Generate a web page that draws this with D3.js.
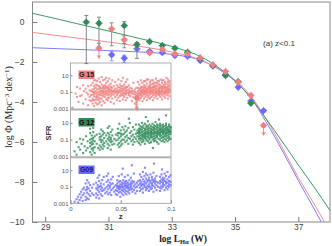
<!DOCTYPE html>
<html><head><meta charset="utf-8">
<script src="https://cdn.jsdelivr.net/npm/d3@7"></script>
<style>body{margin:0;background:#fff}svg{display:block}</style>
</head><body><div id="chart"></div>
<script>
var width = 332, height = 246;

// luminosity bins, log L_Ha (W)
var lumBins = [30.3,30.7,31.1,31.5,31.9,32.3,32.7,33.1,33.5,33.9,34.3,34.7,35.1,35.5,35.9];
// log Phi per field (null = no point)
var phiG12 = [0.0,-0.06,null,-0.18,-1.12,-0.98,-1.18,-1.31,-1.51,-1.83,-2.18,-2.68,-2.98,-4.06,null];
var phiG15 = [null,-1.31,-0.34,-0.89,-3.8,-1.54,-1.37,-1.59,-1.59,-1.79,-2.14,-2.47,-3.01,-3.67,-5.17];
var phiG09 = [null,null,-1.64,-1.81,-1.34,-1.47,-1.52,-1.67,-1.71,-1.93,-2.2,-2.62,-3.26,-3.95,-4.43];
var upG12 = [0.33,0.3,null,0.2,0.1,null,null,null,null,null,null,null,null,null,null];
var dnG12 = [2.08,1.25,null,0.9,0.7,null,null,null,null,null,null,null,null,null,null];
var upG15 = [null,0.25,0.3,0.2,null,null,null,null,null,null,null,null,null,null,null];
var dnG15 = [null,0.52,0.85,0.4,0.62,null,null,null,null,null,null,null,null,null,0.5];
var limG15 = [0,1,0,0,1,0,0,0,0,0,0,0,0,0,1];
var upG09 = [null,null,0.15,0.15,null,null,null,null,null,null,null,null,null,null,null];
var dnG09 = [null,null,0.3,0.22,null,null,null,null,null,null,null,null,null,null,null];

// fitted curves
var fitL   = [28.5,29,30,31,32,33,34,34.5,35,35.5,36,36.5,37,37.5,38,38.2];
var fitG12 = [0.47,0.29,-0.08,-0.45,-0.83,-1.22,-1.8,-2.3,-2.95,-3.8,-4.88,-6.0,-7.15,-8.26,-9.42,-9.9];
var fitG15 = [-0.5,-0.6,-0.8,-1.0,-1.22,-1.5,-1.95,-2.35,-2.9,-3.7,-4.9,-6.3,-7.78,-9.1,-10.5,-11.1];
var fitG09 = [-1.28,-1.31,-1.37,-1.43,-1.5,-1.62,-1.97,-2.38,-2.95,-3.8,-5.05,-6.45,-7.93,-9.35,-10.8,-11.4];

var xTicks = [29,31,33,35,37];
var yTicks = [-10,-8,-6,-4,-2,0];
var insetTicks = [0.001,0.1,10];
var insetTickText = ["0.001","0.1","10"];
var zTicks = [0,0.05,0.1];
var zTickText = ["0","0.05","0.1"];

// inset scatter: [z, [log SFR ...]]
var g15Pts = [
 [.002,[-2.9]],[.005,[-1.2]],[.0065,[-1.6,-0.4]],[.008,[-2.2]],[.0095,[-0.6,-1.5]],[.011,[-1.4]],[.0125,[-2.4,-0.2]],[.0135,[-0.9]],[.015,[-1.9,-0.6]],[.016,[-1.1]],[.0175,[-2.6,-0.3,-1.3]],[.019,[-1.6,-0.8,-2.0]],[.0205,[-2.1,-0.9,-1.4,-0.2]],
 [.022,[-1.8,-0.7,-1.3,-2.4,0.1,-1.0,-2.0]],[.0235,[-1.0,-2.0,-0.3,-1.5,-2.7,-0.6,-1.2,0.4]],[.025,[-0.5,-1.2,-1.9,0.4,-2.3,-0.9,-1.6,-0.1]],
 [.0265,[-1.6,-0.2,-1.1,-2.5,-0.7,0.3,-1.4,-1.9]],[.028,[-1.3,0.6,-0.6,-2.0,-1.0,-1.7,-0.3,-2.4]],[.0295,[-0.4,-1.4,-2.2,0.2,-0.9,-1.2,-0.6,-1.8]],
 [.031,[-1.1,-0.1,-1.8,-2.6,-0.6,0.8,-1.4,-0.9]],[.0325,[-1.5,-0.8,-0.3,-2.1,-1.2,0.4,-1.0,-0.5]],[.034,[-0.7,0.5,-1.6,-1.0,-2.3,-0.2,-1.3,-0.5]],
 [.0355,[-1.3,-0.5,-1.9,0.1,-0.9,-1.1,-0.3,0.7]],[.037,[-0.8,-1.4,0.3,-2.0,-0.4,-1.1,-0.6,-1.7]],[.0385,[-1.0,-0.2,-1.7,-0.6,0.6,-1.3,-0.8]],
 [.040,[-1.2,-0.7,-2.2,0.0,-1.5,-0.4,-0.9]],[.0415,[-0.5,-1.0,-1.8,0.4,-0.9,-1.3]],[.043,[-1.3,-0.3,-2.4,-0.8,-1.0]],[.0445,[-0.6,-1.6,0.2,-1.1,-0.9]],
 [.046,[-0.9,-1.4,-0.2,-2.0,-0.6,-1.1]],[.0475,[-1.2,-0.4,0.5,-1.7,-0.8,-1.0]],[.049,[-0.8,-1.5,-0.1,-1.0,-2.1,-0.5]],[.0505,[-0.6,-1.2,0.3,-0.9,-1.4,-0.3]],
 [.052,[-1.4,-0.3,-0.8,-1.9,0.7,-1.1,-0.6]],[.0535,[-0.5,-1.1,-0.1,-1.6,-0.8,-1.3]],[.055,[-0.9,0.2,-1.3,-0.6,-2.0,-1.1,-0.4]],[.0565,[-1.1,-0.4,-1.7,0.5,-0.8]],
 [.058,[-0.7,-1.4,-0.2,-1.0,-1.2]],[.0595,[-1.5,-0.9,-0.5,-1.1]],[.061,[-1.2,-0.6,-2.1,-0.9]],[.0625,[-0.9,-1.6,0.1,-1.2]],[.064,[-1.3,-0.7,-2.4,-1.0]],
 [.0655,[-1.8,-2.5,-1.1,-0.5,-2.8,-1.4,-2.2]],[.067,[-1.2,-0.5,-1.8,0.2,-0.9,-1.5]],[.0685,[-0.8,-1.4,-0.1,-1.1,-2.0,-0.6,-1.2]],
 [.070,[-0.6,-1.2,0.4,-1.7,-0.9,-0.4,-1.4,-1.0]],[.0715,[-1.0,-0.4,-1.5,0.1,-2.1,-0.7,-1.2,-0.8]],[.073,[-0.7,-1.3,-0.2,-1.0,-1.8,-0.5,0.3,-1.1]],
 [.0745,[-1.1,-0.5,0.3,-1.6,-0.8,-1.3,-0.3,-0.9]],[.076,[-0.9,-1.4,0.0,-2.0,-0.6,-1.1,0.5,-0.7]],[.0775,[-1.2,-0.7,0.5,-1.5,-0.3,-1.0,-0.5,-1.7]],
 [.079,[-0.8,-1.3,-0.4,0.2,-1.8,-1.0,-0.6,-0.1]],[.0805,[-1.0,-0.5,-1.6,-0.1,-1.2,-0.7,0.4,-0.9]],[.082,[-0.7,-1.4,0.4,-0.9,-2.0,-0.4,-1.1,0.0]],
 [.0835,[-1.1,-0.4,-1.7,0.1,-0.8,-1.3,-0.2,-0.6]],[.085,[-0.6,-1.2,0.6,-1.5,-0.9,-0.3,0.1,-1.0]],[.0865,[-0.9,-0.3,-1.8,0.0,-1.3,-0.6,-1.1,0.3]],
 [.088,[-0.7,-1.4,0.3,-1.0,-0.5,-1.2,-0.1,-0.8]],[.0895,[-1.1,-0.6,-1.6,0.5,-0.2,-0.9,-0.4,-1.3]],[.091,[-0.8,-1.3,0.1,-0.4,-1.9,-1.0,0.4,-0.6]],
 [.0925,[-1.0,-0.5,-1.5,0.4,-0.7,-1.2,-0.1,-0.3]],[.094,[-0.6,-1.2,-0.1,-1.7,-0.9,-0.4,0.2,-1.1]],[.0955,[-0.8,-0.4,0.7,-1.4,-1.1,-0.6,0.0,-0.9]],
 [.097,[-0.7,-1.3,0.2,-0.5,-1.8,-1.0,-0.2,0.5]],[.0985,[-0.9,-0.3,-1.5,0.3,-0.6,-1.1,0.0,-0.8]]
];
var g12Pts = [
 [.004,[-2.4]],[.006,[-1.3,-2.8]],[.008,[-1.9]],[.0095,[-0.9,-2.2]],[.011,[-1.5]],[.0125,[-2.6,-1.0]],[.014,[-1.8]],[.0155,[-0.6,-2.3]],[.017,[-1.2,-2.0]],
 [.0195,[-0.2,-1.0,-1.8,-2.5,-1.4,0.3]],[.021,[-0.5,-1.3,-2.1,-2.8,-0.9,-1.6]],[.0225,[-0.1,-0.8,-1.5,-2.3,-1.1,-2.0,0.4]],[.024,[-0.6,-1.2,-1.9,-2.6]],
 [.026,[-1.5,-0.4]],[.0275,[-2.0]],
 [.029,[-0.3,-1.0,-1.7,-2.2,-0.7]],[.0305,[0.2,-0.6,-1.3,-1.9,-1.0]],[.032,[-0.4,-1.1,-1.6,-2.1,0.0]],[.0335,[-0.8,-1.4,-0.2,-1.8]],[.0355,[-1.2,-0.5]],
 [.037,[-0.2,-0.9,-1.5,-2.0,0.4]],[.0385,[0.6,-0.4,-1.1,-1.7,-0.7]],[.040,[-0.1,-0.8,-1.3,-2.2,-1.0]],[.0415,[0.2,-0.5,-1.2,-1.6]],
 [.0435,[-0.9,-1.5]],[.045,[-0.4,-1.1]],
 [.047,[0.3,-0.5,-1.0,-1.6,-0.2]],[.0485,[0.9,-0.2,-0.8,-1.4,-1.9]],[.050,[0.1,-0.6,-1.2,-1.7,-0.3]],[.0515,[0.5,-0.4,-1.0,-1.5]],
 [.053,[-0.3,-1.0,0.2]],[.0545,[-0.7,-1.3,0.6,-0.1]],[.056,[-0.5,-1.1,0.1]],[.0575,[-0.8,-1.5,0.4]],[.058,[1.5]],[.059,[-0.2,-0.9,1.0]],
 [.0605,[-0.6,-1.2,0.0]],[.062,[-0.4,-1.0,0.5,-1.6]],[.0635,[-0.7,0.2,-1.3]],[.065,[-0.3,-0.9,0.8]],[.0665,[-0.6,-1.2,0.1,-0.2]],
 [.068,[-0.3,-0.9,0.3,-1.4,-0.6,0.0,-0.1,0.8]],[.0695,[0.1,-0.5,-1.1,0.6,-0.2,-0.8,-1.6,0.3]],[.071,[-0.4,0.2,-0.9,-1.3,0.5,-0.1,-0.6,1.0]],
 [.0725,[0.0,-0.7,0.4,-1.2,-0.3,-0.5,0.7,-1.0]],[.074,[-0.2,0.3,-0.8,-1.5,0.1,-0.4,0.9,-0.6]],[.075,[1.7]],[.0755,[0.2,-0.6,-1.1,0.5,-0.3,-0.1,-0.9,0.7]],
 [.077,[-0.4,0.0,0.6,-1.2,-0.7,0.3,-0.2,1.2]],[.0785,[0.1,-0.5,-1.0,0.4,-0.2,0.8,-0.8,-1.4]],[.080,[-0.3,0.3,-0.7,-1.3,0.6,-0.1,0.0,-0.5]],
 [.0815,[0.2,-0.4,-1.0,0.5,-0.2,0.9,-0.7,0.1]],[.082,[-2.0]],[.083,[-0.1,0.4,-0.6,-1.2,0.7,-0.3,0.2,-0.9]],[.0845,[0.0,-0.5,0.3,-1.1,-0.2,0.6,-0.8,1.1]],
 [.086,[-0.3,0.2,-0.7,0.5,-1.3,-0.1,0.8,-0.5]],[.0875,[0.1,-0.4,0.4,-0.9,-0.2,0.7,-1.5,0.0]],[.088,[1.4]],[.089,[-0.2,0.3,-0.6,0.6,-1.0,0.1,-0.4,0.9]],
 [.0905,[0.0,-0.5,0.4,-0.8,-0.1,0.7,-1.2,0.2]],[.092,[-0.3,0.2,-0.7,0.5,-1.1,-0.2,0.8,0.0]],[.0935,[0.1,-0.4,0.3,-0.9,-0.1,0.6,-1.3,-0.6]],
 [.095,[-0.2,0.4,-0.6,0.7,-1.0,0.1,-0.3,0.9,1.9]],[.0965,[0.0,-0.5,0.3,-0.8,0.5,-0.2,-1.2,0.2]],[.098,[-0.1,0.2,-0.7,0.6,-0.4,0.8,-1.0,0.0]],[.0995,[0.1,-0.3,0.4,-0.9,-0.1,0.5]]
];
var g09Pts = [
 [.004,[-2.8]],[.006,[-2.5]],[.0075,[-2.2,-2.9]],[.009,[-1.9,-2.6]],[.0105,[-1.6,-2.3]],[.012,[-1.3,-2.0,-2.7]],[.0135,[-1.1,-1.8]],
 [.015,[-0.6,-1.4,-2.2,-2.6]],[.0165,[-0.2,-1.0,-1.7,-2.4,-1.3]],[.018,[-0.5,-1.2,-1.9,-2.5]],[.0195,[-0.8,-1.5,-2.1]],[.0215,[-1.1,-1.8]],[.023,[-0.7,-2.0]],
 [.0255,[-0.5,-1.2,-1.8,-2.3]],[.027,[0.1,-0.8,-1.4,-2.0,-1.1]],[.0285,[-0.3,-1.0,-1.6,-2.4,0.4]],[.030,[-0.6,-1.3,-1.9,-0.9]],[.0315,[-0.2,-1.1,-1.5,-2.1]],[.033,[-0.7,-1.4,0.2]],
 [.0345,[-1.2,-1.8]],[.036,[-0.4,-1.0,-1.6,0.3]],[.0375,[-0.8,-1.3,-1.9,-0.2,0.6]],[.039,[-0.5,-1.1,-1.7,-0.9]],[.0405,[-0.1,-0.7,-1.4,-2.0]],[.042,[-0.6,-1.2,0.2]],
 [.0435,[-1.0,-1.6]],[.045,[-0.8,-1.4,-1.9]],[.0465,[-0.6,-1.1,-1.5,-0.2,-2.0,-0.9]],[.048,[-0.9,-1.3,-0.4,-1.7,0.3,-1.1]],[.0495,[-0.7,-1.2,-1.6,-0.3,-2.2,-1.0]],
 [.051,[-1.0,-0.5,-1.4,-0.8,0.5,-1.8]],[.052,[1.2]],[.0525,[-0.6,-1.2,-1.5,-0.2,-1.0,-2.0]],[.054,[-0.9,-1.3,-0.4,-1.7,-0.7,0.2]],[.0555,[-1.1,-0.6,-1.5,-0.3,-0.9,-1.9]],
 [.057,[-0.8,-1.2,-0.5,-1.6,0.4,-1.0]],[.0585,[-0.7,-1.4,-0.2,-1.1,-1.8]],[.060,[-1.0,-0.5,-1.3,-0.8,0.1]],[.061,[1.6]],[.0615,[-0.6,-1.2,-1.6,-0.3]],
 [.063,[-0.9,-1.4,-0.4,0.6]],[.0645,[-1.1,-0.7,-1.8]],[.066,[-0.5,-1.0,-1.5]],[.0675,[-0.8,-0.3]],
 [.069,[-0.6,-1.1,-0.2,0.5,-1.5]],[.0705,[-0.4,-0.9,0.2,-1.3,-0.7]],[.072,[-0.7,-1.2,-0.1,0.8,-1.7]],[.0735,[-0.3,-0.8,0.3,-1.0,-0.5]],[.074,[1.3]],
 [.075,[-0.6,-1.1,0.0,-1.4,0.6]],[.0765,[-0.4,-0.9,0.4,-1.2,-0.2]],[.078,[-0.7,-0.2,-1.5,0.1,-1.0]],[.0795,[-0.5,-1.0,0.5,-0.3,-1.3]],
 [.081,[-0.8,-0.1,-1.2,0.2,-0.6]],[.0825,[-0.4,-0.9,0.7,-1.6,-0.2]],[.083,[1.8]],[.084,[-0.6,-1.1,0.0,-0.3]],[.0855,[-0.8,-0.4,0.3,-1.4]],[.087,[-0.5,-1.0]],
 [.089,[-0.6,-1.1,0.2,-0.3,-1.5]],[.0905,[-0.4,-0.9,0.5,-1.2,-0.1]],[.091,[1.1]],[.092,[-0.7,-0.2,0.1,-1.0,-0.5]],[.0935,[-0.3,-0.8,0.6,-1.4,0.0]],
 [.095,[-0.6,-1.1,0.3,-0.4]],[.0965,[-0.5,-0.1,-0.9,0.8,-1.3]],[.098,[-0.7,-0.3,0.2,-1.0]],[.0995,[-0.4,-0.8,0.4]]
];

var cGreen = "#2e8b57", cPink = "#f08080", cBlue = "#6a6aff";
var sans = "'Liberation Sans', Arial, sans-serif", serif = "'Liberation Serif', 'Times New Roman', serif";

var svg = d3.select("#chart").append("svg").attr("width", width).attr("height", height);

var x = d3.scaleLinear().domain([28.6, 38]).range([32.5, 330]);
var y = d3.scaleLinear().domain([-10, 1]).range([222, 2]);

svg.append("clipPath").attr("id", "plotclip").append("rect")
  .attr("x", 32.5).attr("y", 2).attr("width", 297.5).attr("height", 220);

// axes (ticks pointing inward)
var gx = svg.append("g").attr("transform", "translate(0,222)");
gx.call(d3.axisBottom(x).tickValues(d3.range(28.8, 37.95, 0.2)).tickSize(-2.5).tickFormat(""));
gx.call(d3.axisBottom(x).tickValues(xTicks).tickSize(-5).tickPadding(2).tickFormat(d3.format("d")));
var gy = svg.append("g").attr("transform", "translate(32.5,0)");
gy.call(d3.axisLeft(y).tickValues(d3.range(-10, 1.01, 0.4)).tickSize(-2.5).tickFormat(""));
gy.call(d3.axisLeft(y).tickValues(yTicks).tickSize(-5).tickPadding(8).tickFormat(d3.format("d")));
svg.selectAll(".domain").remove();
svg.selectAll(".tick line").attr("stroke", "#777");
svg.selectAll(".tick text").attr("fill", "#444").style("font-family", sans).style("font-size", "8.5px");

svg.append("rect").attr("x", 32.5).attr("y", 2).attr("width", 297.5).attr("height", 220)
  .attr("fill", "none").attr("stroke", "#888").attr("stroke-width", 1);

// fitted curves
var line = d3.line().x(function(d){ return x(d[0]); }).y(function(d){ return y(d[1]); }).curve(d3.curveMonotoneX);
[[fitG09, "#7b7bff"], [fitG15, "#f28e8e"], [fitG12, "#3a9966"]].forEach(function(f) {
  svg.append("path").datum(fitL.map(function(L, i){ return [L, f[0][i]]; }))
    .attr("clip-path", "url(#plotclip)")
    .attr("d", line).attr("fill", "none").attr("stroke", f[1]).attr("stroke-width", 1);
});

// inset
var ix0 = 70.5, ix1 = 171;
var z = d3.scaleLinear().domain([0, 0.1]).range([ix0, ix1]);
var panels = [
  {top: 63, bot: 108.5, pts: g15Pts, col: cPink, name: "G 15", txt: "#222"},
  {top: 110.5, bot: 156.3, pts: g12Pts, col: cGreen, name: "G 12", txt: "#111"},
  {top: 158, bot: 203.3, pts: g09Pts, col: cBlue, name: "G09", txt: "#1a1a60"}
];
var inset = svg.append("g");
inset.append("rect").attr("x", ix0).attr("y", 63).attr("width", ix1 - ix0).attr("height", 203.3 - 63)
  .attr("fill", "#fff").attr("stroke", "#999").attr("stroke-width", 0.8);

panels.forEach(function(p, k) {
  var s = d3.scaleLog().domain([0.001, 300]).range([p.bot, p.top]);
  var g = inset.append("g");
  p.pts.forEach(function(c) {
    g.selectAll(null).data(c[1]).enter().append("rect")
      .attr("x", z(c[0]) - 1).attr("y", function(v){ return s(Math.pow(10, v)) - 1; })
      .attr("width", 2.1).attr("height", 2.1)
      .attr("fill", p.col).attr("opacity", 0.8);
  });
  var ay = g.append("g").attr("transform", "translate(" + ix0 + ",0)")
    .call(d3.axisLeft(s).tickValues(insetTicks).tickSize(-2).tickPadding(2)
      .tickFormat(function(d, i){ return insetTickText[i]; }));
  ay.select(".domain").remove();
  ay.selectAll(".tick line").attr("stroke", "#888");
  ay.selectAll(".tick text").attr("fill", "#555").style("font-family", sans).style("font-size", "6px");
  if (k < 2) {
    g.append("rect").attr("x", ix0).attr("y", p.bot).attr("width", ix1 - ix0).attr("height", 2)
      .attr("fill", "#b0b0b0");
  }
  g.append("rect").attr("x", 78.5).attr("y", p.top + 7.5).attr("width", 16).attr("height", 8.5).attr("fill", p.col);
  g.append("text").attr("x", 86.5).attr("y", p.top + 14.3).attr("text-anchor", "middle")
    .style("font-family", sans).style("font-size", "7px").style("font-weight", "bold")
    .attr("fill", p.txt).text(p.name);
});

var az = inset.append("g").attr("transform", "translate(0,203.3)")
  .call(d3.axisBottom(z).tickValues(d3.range(0, 0.1001, 0.01)).tickSize(-2).tickFormat(""));
az.call(d3.axisBottom(z).tickValues(zTicks).tickSize(-3).tickPadding(3)
  .tickFormat(function(d, i){ return zTickText[i]; }));
az.select(".domain").remove();
az.selectAll(".tick line").attr("stroke", "#888");
az.selectAll(".tick text").attr("fill", "#555").style("font-family", sans).style("font-size", "6px");

svg.append("text").attr("x", 120.7).attr("y", 219).attr("text-anchor", "middle")
  .style("font-family", sans).style("font-size", "8px").style("font-weight", "bold").attr("fill", "#333").text("z");
svg.append("text").attr("transform", "translate(50.5,133) rotate(-90)").attr("text-anchor", "middle")
  .style("font-family", sans).style("font-size", "7.5px").style("font-weight", "bold").attr("fill", "#333").text("SFR");

// data points with error bars
function drawSeries(vals, up, dn, lim, col, barCol) {
  var g = svg.append("g");
  lumBins.forEach(function(L, i) {
    var v = vals[i];
    if (v === null) return;
    var cx = x(L), cy = y(v);
    if (up[i] !== null) {
      g.append("line").attr("x1", cx).attr("x2", cx).attr("y1", cy).attr("y2", y(v + up[i]))
        .attr("stroke", barCol).attr("stroke-width", 0.9);
      g.append("line").attr("x1", cx - 2).attr("x2", cx + 2).attr("y1", y(v + up[i])).attr("y2", y(v + up[i]))
        .attr("stroke", barCol).attr("stroke-width", 0.9);
    }
    if (dn[i] !== null) {
      var yb = y(v - dn[i]);
      g.append("line").attr("x1", cx).attr("x2", cx).attr("y1", cy).attr("y2", yb)
        .attr("stroke", lim && lim[i] ? col : barCol).attr("stroke-width", 0.9);
      if (lim && lim[i]) {
        g.append("path").attr("d", "M" + (cx - 2.2) + "," + (yb - 3) + "L" + (cx + 2.2) + "," + (yb - 3) + "L" + cx + "," + yb + "Z")
          .attr("fill", col);
      } else {
        g.append("line").attr("x1", cx - 2).attr("x2", cx + 2).attr("y1", yb).attr("y2", yb)
          .attr("stroke", barCol).attr("stroke-width", 0.9);
      }
    }
    g.append("line").attr("x1", cx - 3.5).attr("x2", cx + 3.5).attr("y1", cy).attr("y2", cy)
      .attr("stroke", col).attr("stroke-width", 1.3);
    g.append("line").attr("x1", cx).attr("x2", cx).attr("y1", cy - 3.5).attr("y2", cy + 3.5)
      .attr("stroke", col).attr("stroke-width", 1.3);
    g.append("circle").attr("cx", cx).attr("cy", cy).attr("r", 2.6).attr("fill", col);
  });
}
drawSeries(phiG09, upG09, dnG09, null, cBlue, "#8a8aff");
drawSeries(phiG12, upG12, dnG12, null, cGreen, "#777");
drawSeries(phiG15, upG15, dnG15, limG15, cPink, "#888");

// titles
svg.append("text").attr("x", 279).attr("y", 46).attr("text-anchor", "middle")
  .style("font-family", sans).style("font-size", "8px").attr("fill", "#333").text("(a)  z<0.1");

var yt = svg.append("text").attr("transform", "translate(12,107) rotate(-90)").attr("text-anchor", "middle")
  .style("font-family", serif).style("font-size", "10px").attr("fill", "#222");
yt.append("tspan").text("log \u03a6 (Mpc");
yt.append("tspan").attr("dy", -3.5).style("font-size", "7px").text("\u22123");
yt.append("tspan").attr("dy", 3.5).text(" dex");
yt.append("tspan").attr("dy", -3.5).style("font-size", "7px").text("\u22121");
yt.append("tspan").attr("dy", 3.5).text(")");

var xt = svg.append("text").attr("x", 183).attr("y", 242).attr("text-anchor", "middle")
  .style("font-family", serif).style("font-size", "9.5px").style("font-weight", "bold").attr("fill", "#222");
xt.append("tspan").text("log L");
xt.append("tspan").attr("dy", 2).style("font-size", "6.5px").text("H\u03b1");
xt.append("tspan").attr("dy", -2).text(" (W)");
</script>
</body></html>
